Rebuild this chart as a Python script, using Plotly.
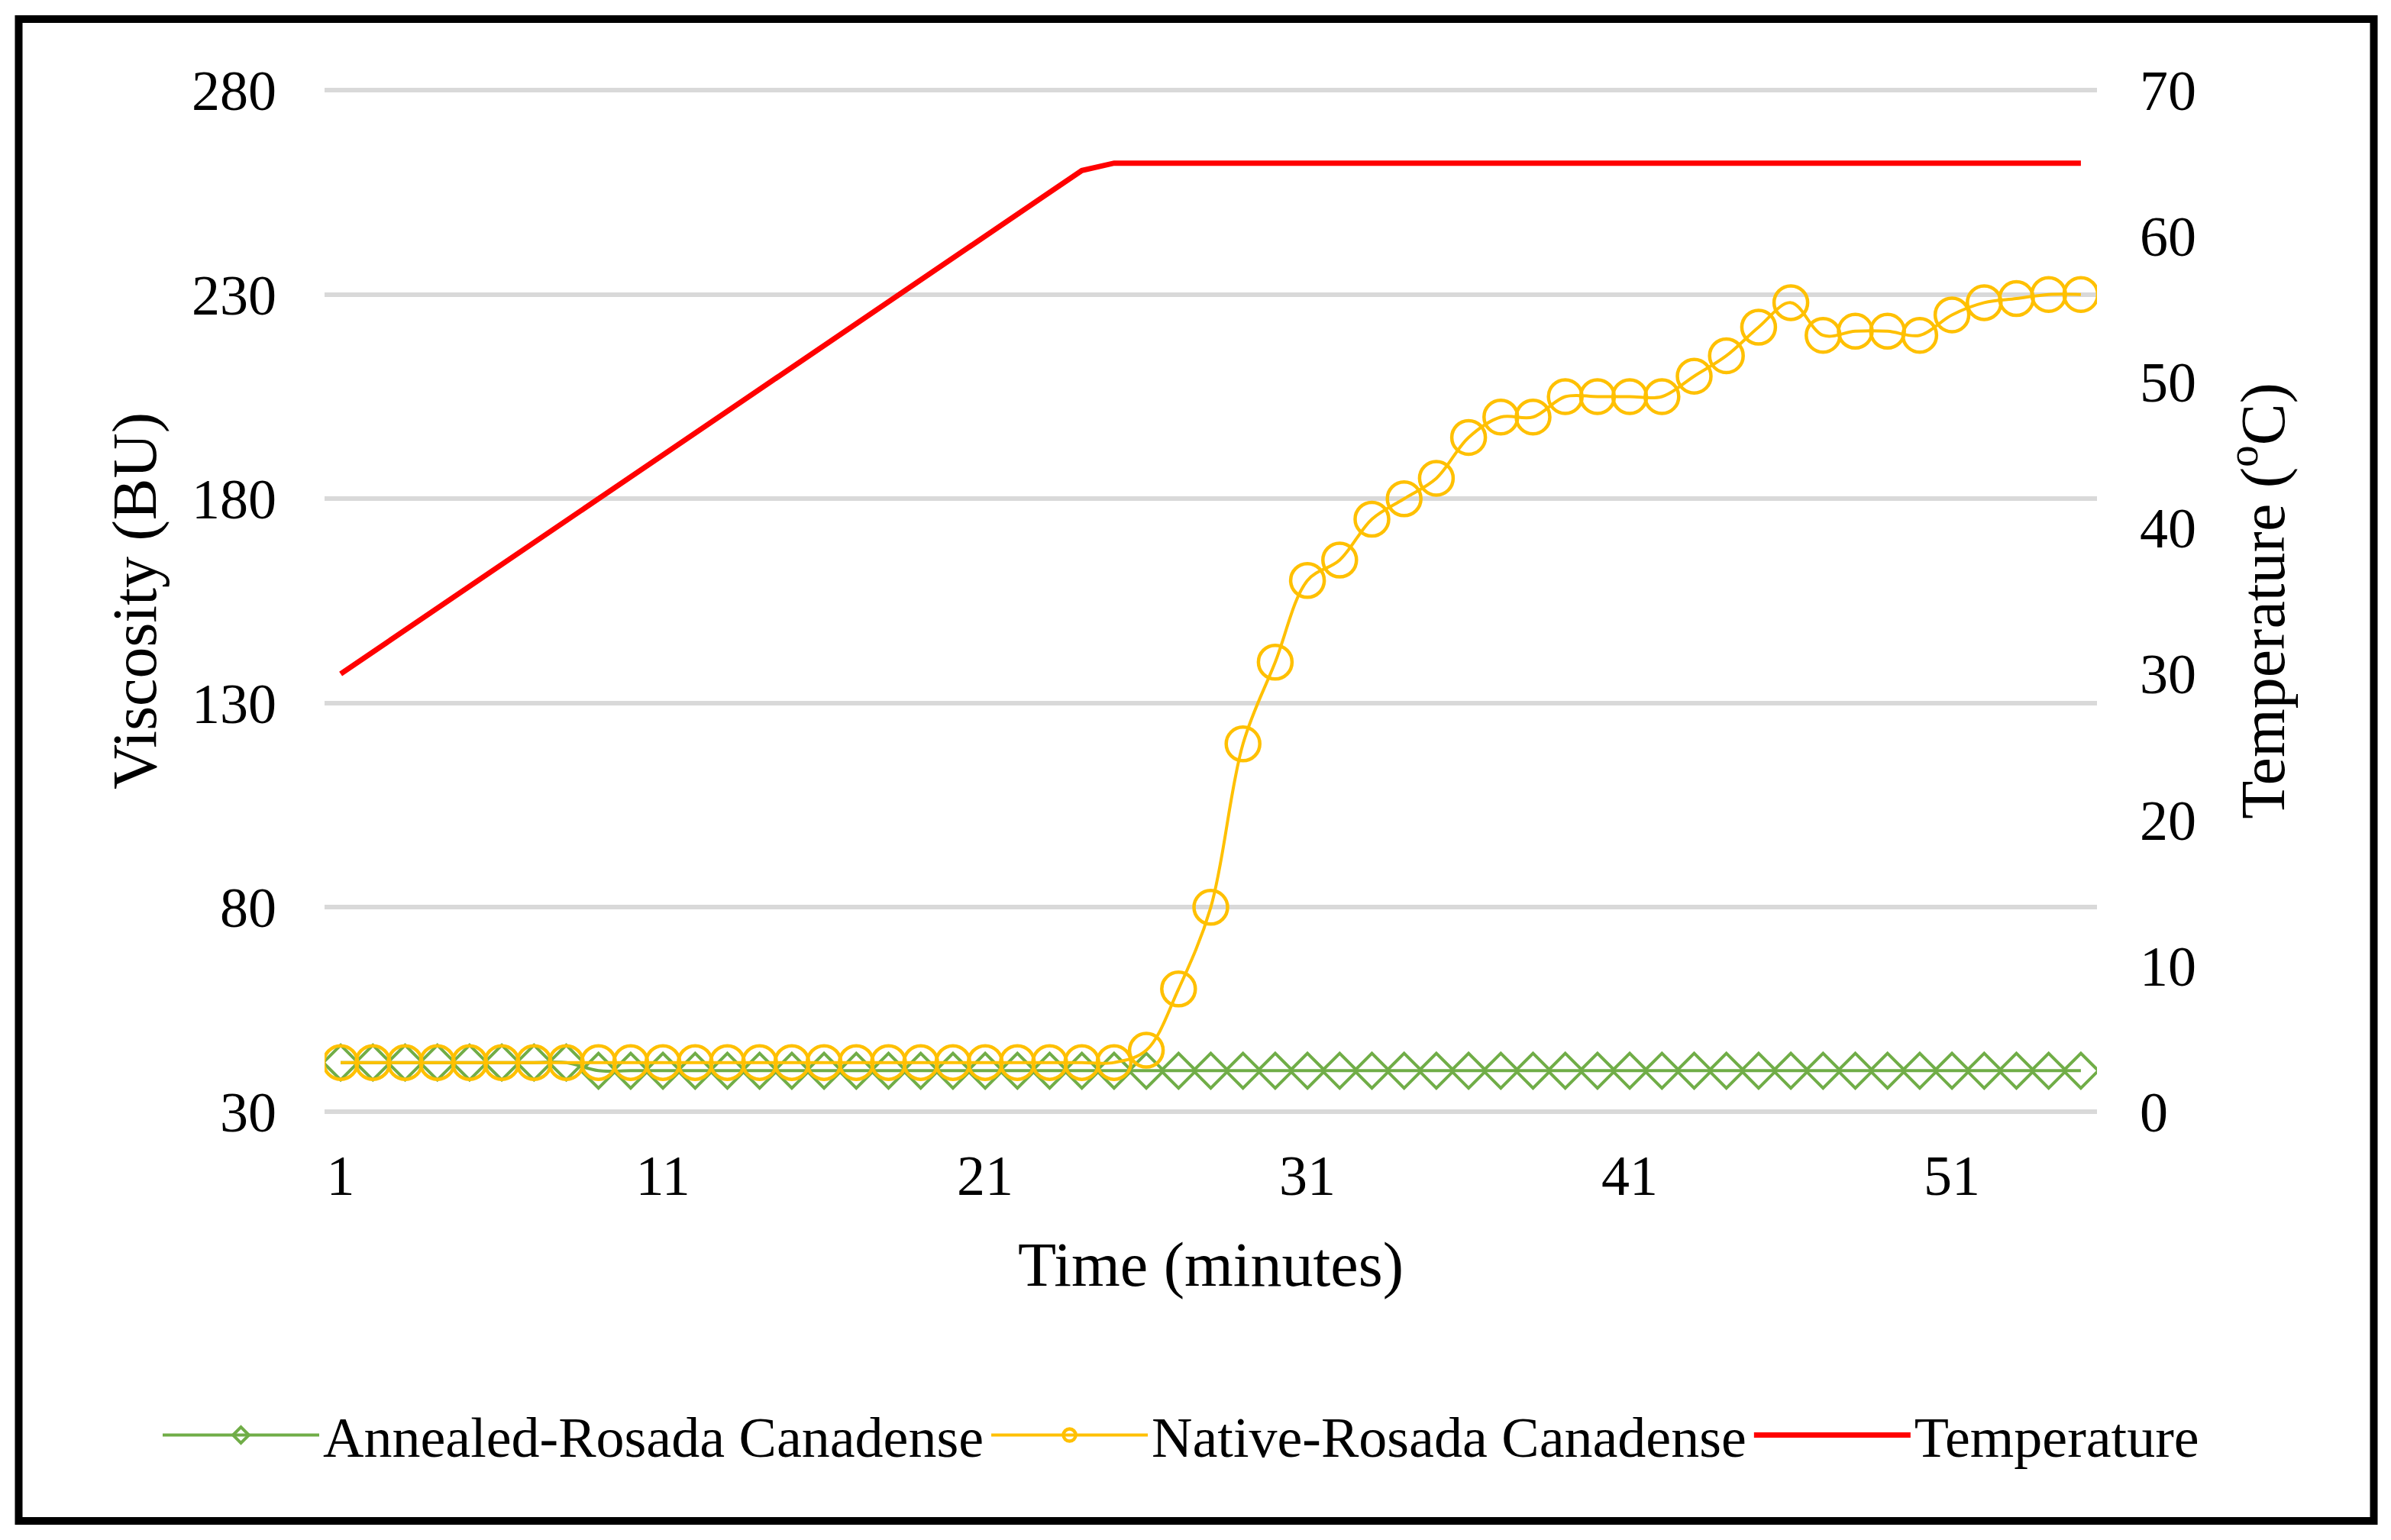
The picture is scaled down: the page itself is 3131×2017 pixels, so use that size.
import plotly.graph_objects as go

# ---- data ----
minutes = [1, 2, 3, 4, 5, 6, 7, 8, 9, 10, 11, 12, 13, 14, 15, 16, 17, 18, 19, 20,
           21, 22, 23, 24, 25, 26, 27, 28, 29, 30, 31, 32, 33, 34, 35, 36, 37, 38, 39, 40,
           41, 42, 43, 44, 45, 46, 47, 48, 49, 50, 51, 52, 53, 54, 55]

annealed = [42, 42, 42, 42, 42, 42, 42, 42, 40, 40, 40, 40, 40, 40, 40, 40, 40, 40, 40, 40,
            40, 40, 40, 40, 40, 40, 40, 40, 40, 40, 40, 40, 40, 40, 40, 40, 40, 40, 40, 40,
            40, 40, 40, 40, 40, 40, 40, 40, 40, 40, 40, 40, 40, 40, 40]

native = [42, 42, 42, 42, 42, 42, 42, 42, 42, 42, 42, 42, 42, 42, 42, 42, 42, 42, 42, 42,
          42, 42, 42, 42, 42, 45, 60, 80, 120, 140, 160, 165, 175, 180, 185, 195, 200, 200, 205, 205,
          205, 205, 210, 215, 222, 228, 220, 221, 221, 220, 225, 228, 229, 230, 230]

temperature = [30, 31.5, 33, 34.5, 36, 37.5, 39, 40.5, 42, 43.5, 45, 46.5, 48, 49.5, 51, 52.5,
               54, 55.5, 57, 58.5, 60, 61.5, 63, 64.5, 65, 65, 65, 65, 65, 65, 65, 65, 65, 65, 65,
               65, 65, 65, 65, 65, 65, 65, 65, 65, 65, 65, 65, 65, 65, 65, 65, 65, 65, 65, 65]

x_ticks = [1, 11, 21, 31, 41, 51]
series_names = ["Annealed-Rosada Canadense", "Native-Rosada Canadense", "Temperature"]

# ---- styling ----
FONT = "Liberation Serif"
W, H = 3131, 2017
ML, MR, MT, MB = 425, 385, 116, 559
PW, PH = W - ML - MR, H - MT - MB

# small padding so that the boundary gridlines (30 and 280) are drawn
PAD = 0.4
y1_range = [30 - PAD, 280 + PAD]
k = 70.0 / 250.0
y2_range = [0 - PAD * k, 70 + PAD * k]

fig = go.Figure()
fig.add_trace(go.Scatter(
    x=minutes, y=annealed, name=series_names[0], mode="lines+markers",
    line=dict(color="#70AD47", width=4, shape="spline", smoothing=1),
    marker=dict(symbol="diamond-open", size=35, color="#70AD47", line=dict(width=4, color="#70AD47")),
    yaxis="y"))
fig.add_trace(go.Scatter(
    x=minutes, y=native, name=series_names[1], mode="lines+markers",
    line=dict(color="#FFC000", width=4, shape="spline", smoothing=1),
    marker=dict(symbol="circle-open", size=44, color="#FFC000", line=dict(width=4.5, color="#FFC000")),
    yaxis="y"))
fig.add_trace(go.Scatter(
    x=minutes, y=temperature, name=series_names[2], mode="lines",
    line=dict(color="#FF0000", width=7),
    yaxis="y2"))

# outer black frame (paper coordinates)
def px_to_paper_x(px):
    return (px - ML) / PW

def px_to_paper_y(py):
    return (H - MB - py) / PH

fig.add_shape(type="rect", xref="paper", yref="paper",
              x0=px_to_paper_x(24.5), x1=px_to_paper_x(3108.5),
              y0=px_to_paper_y(1992), y1=px_to_paper_y(25),
              line=dict(color="black", width=10), fillcolor="rgba(0,0,0,0)", layer="below")

fig.update_layout(
    width=W, height=H,
    margin=dict(l=ML, r=MR, t=MT, b=MB),
    paper_bgcolor="white", plot_bgcolor="white",
    font=dict(family=FONT, size=74, color="black"),
    showlegend=True,
    legend=dict(orientation="h", xref="paper", x=px_to_paper_x(208), xanchor="left",
                y=px_to_paper_y(1880), yanchor="middle",
                font=dict(family=FONT, size=74, color="black"),
                itemwidth=205,
                bgcolor="rgba(0,0,0,0)"),
    xaxis=dict(range=[0.5, 55.5], tickmode="array", tickvals=x_ticks,
               ticktext=[str(v) for v in x_ticks], tickangle=0,
               showgrid=False, zeroline=False, showline=False, ticks="",
               ticklabelstandoff=32,
               tickfont=dict(family=FONT, size=74),
               title=dict(text="Time (minutes)", font=dict(family=FONT, size=82), standoff=46)),
    yaxis=dict(range=y1_range, tickmode="linear", tick0=30, dtick=50,
               showgrid=True, gridcolor="#D9D9D9", gridwidth=6,
               zeroline=False, showline=False, ticks="",
               ticklabelstandoff=62,
               tickfont=dict(family=FONT, size=74),
               title=dict(text="Viscosity (BU)", font=dict(family=FONT, size=82), standoff=19)),
    yaxis2=dict(range=y2_range, tickmode="linear", tick0=0, dtick=10,
                overlaying="y", side="right",
                showgrid=False, zeroline=False, showline=False, ticks="",
                ticklabelstandoff=55,
                tickfont=dict(family=FONT, size=74),
                title=dict(text="Temperature (<sup>o</sup>C)", font=dict(family=FONT, size=82), standoff=58)),
)

fig.write_html("out.html", config={"displayModeBar": False},
               post_script="document.body.style.margin='0';")
